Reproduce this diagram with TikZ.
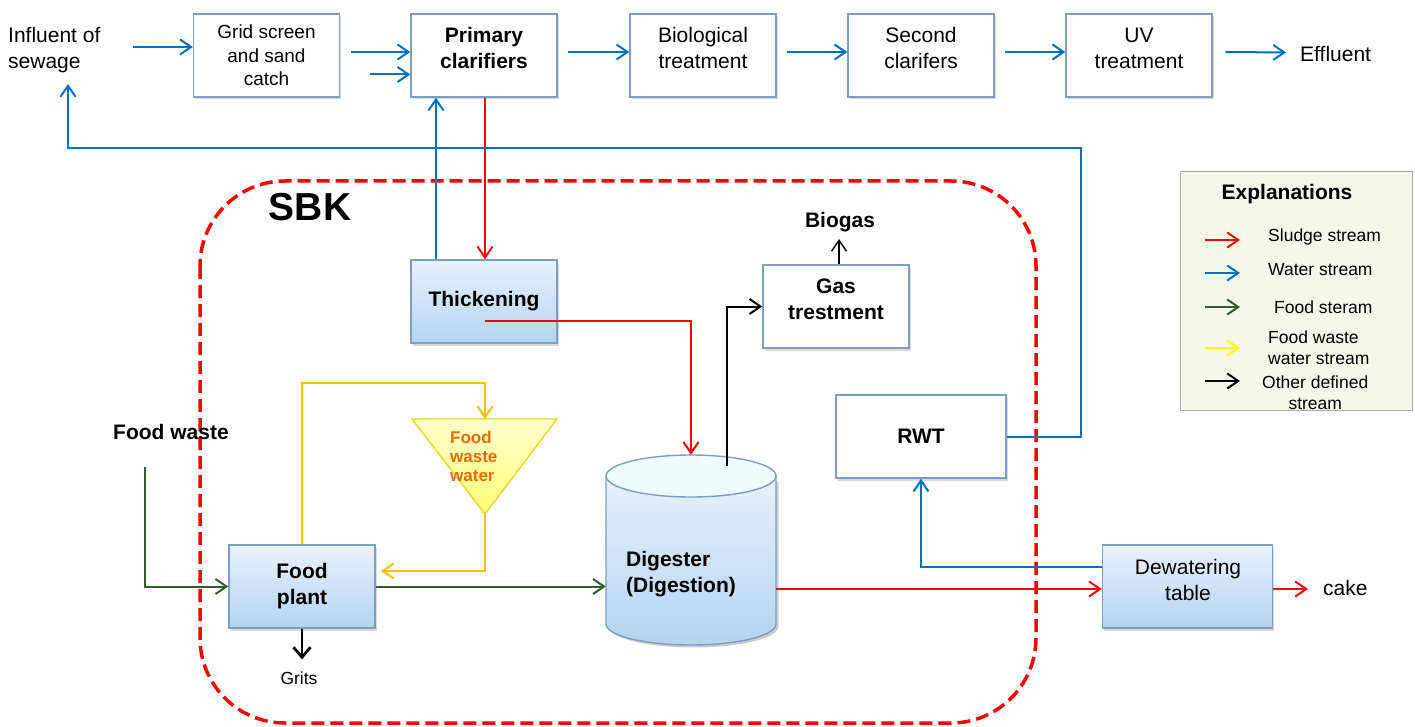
\documentclass[tikz,border=0pt]{standalone}
\usepackage{fontspec}
\setmainfont{Liberation Sans}
\usetikzlibrary{arrows.meta,shadows,calc}
\definecolor{wblue}{RGB}{0,112,192}
\definecolor{sred}{RGB}{255,0,0}
\definecolor{fgreen}{RGB}{47,94,47}
\definecolor{fyel}{RGB}{255,192,0}
\definecolor{lyel}{RGB}{255,255,0}
\definecolor{boxc}{RGB}{125,158,192}
\definecolor{gtop}{RGB}{232,242,252}
\definecolor{gbot}{RGB}{180,211,240}
\definecolor{orng}{RGB}{228,108,10}
\definecolor{legbg}{RGB}{245,247,233}
\definecolor{legbd}{RGB}{170,170,170}
\definecolor{cyltop}{RGB}{238,252,255}
\definecolor{tritop}{RGB}{255,255,205}
\definecolor{tribot}{RGB}{255,255,120}
\definecolor{tribd}{RGB}{230,215,40}
\tikzset{
  box/.style={draw=boxc, line width=1.4pt, fill=white, minimum width=146pt, minimum height=83pt, inner sep=0pt,
    drop shadow={opacity=0.3, shadow xshift=1.5pt, shadow yshift=-2.5pt}},
  gbox/.style={box, top color=gtop, bottom color=gbot},
  arr/.style={-{Straight Barb[length=11pt,width=15pt]}, line width=2pt},
  wb/.style={arr, draw=wblue},
  sr/.style={arr, draw=sred},
  fg/.style={arr, draw=fgreen},
  fy/.style={arr, draw=fyel},
  bk/.style={arr, draw=black},
  txt/.style={inner sep=0pt, align=center, font=\fontsize{21}{26}\selectfont},
  btxt/.style={txt, font=\fontsize{21}{26}\selectfont\bfseries},
  legt/.style={inner sep=0pt, anchor=west, align=left, font=\fontsize{17.5}{21}\selectfont},
}
\begin{document}
\begin{tikzpicture}[x=1pt,y=-1pt]
\useasboundingbox (0,0) rectangle (1415,727);

% SBK boundary
\draw[sred, line width=3.5pt, rounded corners=85pt, dash pattern=on 13pt off 6pt] (200,181) rectangle (1036,723);
\node[inner sep=0pt, font=\fontsize{39}{44}\selectfont\bfseries] (sbk) at (310,207) {SBK};

% top row
\node[txt, anchor=west, align=left] (infl) at (8,50) {Influent of\\sewage};
\node[box, font=\fontsize{19}{23.5}\selectfont, align=center] (grid) at (266.5,55.5) {Grid screen\\and sand\\catch};
\node[box] (prim) at (484,55.5) {};
\node[btxt] (primt) at (484,48) {Primary\\clarifiers};
\node[box] (bio) at (703,55.5) {};
\node[txt] (biot) at (703,48) {Biological\\treatment};
\node[box] (sec) at (921,55.5) {};
\node[txt] (sect) at (921,48) {Second\\clarifers};
\node[box] (uv) at (1139,55.5) {};
\node[txt] (uvt) at (1139,48) {UV\\treatment};
\node[txt, anchor=west] (eff) at (1300,54) {Effluent};

\draw[wb] ($(grid.west)+(-60,-8.5)$) -- ($(grid.west)+(0,-8.5)$);
\draw[wb] ($(prim.west)+(-59,-3.5)$) -- ($(prim.west)+(0,-3.5)$);
\draw[wb] ($(prim.west)+(-40,19)$) -- ($(prim.west)+(0,19)$);
\draw[wb] ($(bio.west)+(-61,-3.5)$) -- ($(bio.west)+(0,-3.5)$);
\draw[wb] ($(sec.west)+(-60,-3.5)$) -- ($(sec.west)+(0,-3.5)$);
\draw[wb] ($(uv.west)+(-60,-3.5)$) -- ($(uv.west)+(0,-3.5)$);
\draw[wb] ($(uv.east)+(13,-3.5)$) -- ($(eff.west)+(-14,-1.5)$);

% thickening
\node[gbox, font=\fontsize{21}{26}\selectfont\bfseries] (thick) at (484,301.5) {Thickening};
\draw[wb] ($(thick.north)+(-48,0)$) -- ($(prim.south)+(-48,0)$);
\draw[sr] ($(prim.south)+(1,0)$) -- ($(thick.north)+(1,0)$);

% gas treatment
\node[box] (gas) at (836,306.5) {};
\node[btxt] (gast) at (836,299) {Gas\\trestment};
\node[inner sep=0pt, font=\fontsize{21}{26}\selectfont\bfseries] (biogas) at (840,222) {Biogas};
\draw[bk, line width=1.4pt] ($(gas.north)+(3,0)$) -- ($(biogas.south)+(-1,7)$);

% RWT
\node[box, minimum width=170pt, font=\fontsize{21}{26}\selectfont\bfseries] (rwt) at (921,436.5) {RWT};

% digester cylinder
\node[minimum width=170pt, minimum height=190pt, inner sep=0pt] (dig) at (691,550) {};
\fill[black, opacity=0.2] (608.5,481.5) -- (608.5,626.5) .. controls (608.5,638.1) and (646.5,647.5) .. (693.5,647.5) .. controls (740.5,647.5) and (778.5,638.1) .. (778.5,626.5) -- (778.5,481.5) -- cycle;
\shade[top color=gtop, bottom color=gbot, draw=boxc, line width=1.4pt] (606,476) -- (606,624) .. controls (606,635.6) and (644,645) .. (691,645) .. controls (738,645) and (776,635.6) .. (776,624) -- (776,476) -- cycle;
\draw[boxc, fill=cyltop, line width=1.4pt] (691,476) ellipse[x radius=85, y radius=21];
\node[btxt, align=left, anchor=west] (digt) at (626,574.5) {Digester\\(Digestion)};

\coordinate (r1) at (485,321);
\draw[sr] (r1) -| (dig.north);
\coordinate (g1) at (727,466);
\draw[bk] (g1) |- (gas.west);

% dewatering
\node[gbox, minimum width=170pt] (dew) at (1187.5,586.5) {};
\node[txt] (dewt) at (1188,579.5) {Dewatering\\table};
\node[txt, anchor=west] (cake) at (1323,588) {cake};
\draw[sr] (dig.east |- 0,589) -- (dew.west |- 0,589);
\draw[sr] (dew.east |- 0,589) -- ($(cake.west)+(-15,1)$);
\draw[wb] ($(dew.west)+(0,-19.5)$) -| (rwt.south);

% water return loop
\coordinate (c1) at (1081,148);
\coordinate (c2) at (68,84);
\draw[wb] (rwt.east) -| (c1) -| (c2);

% food side
\node[inner sep=0pt, font=\fontsize{21}{26}\selectfont\bfseries] (fw) at (171,432) {Food waste};
\node[gbox, font=\fontsize{21}{26}\selectfont\bfseries, align=center] (fplant) at (302,586.5) {Food\\plant};
\coordinate (fw0) at (145,467);
\draw[fg] (fw0) |- (fplant.west);
\draw[fg] (fplant.east) -- (fplant.east -| dig.west);
\node[inner sep=0pt, font=\fontsize{17.5}{21}\selectfont] (grits) at (299,678) {Grits};
\draw[-{Straight Barb[length=10pt,width=17pt]}, line width=2.8pt] (fplant.south) -- ($(grits.north)+(3,-12)$);

% food waste water triangle
\coordinate (trit) at (485,419);
\coordinate (tria) at (485,514);
\shade[top color=tritop, bottom color=tribot, draw=tribd, line width=1.4pt] (412,419) -- (557,419) -- (tria) -- cycle;
\node[inner sep=0pt, align=left, anchor=west, text=orng, font=\fontsize{17}{19}\selectfont\bfseries] (fwwt) at (450,456) {Food\\waste\\water};
\draw[fy] (fplant.north) -- ++(0,-161) -| (trit);
\coordinate (c4) at (381,571);
\draw[fy] (tria) |- (c4);

% legend
\node[draw=legbd, fill=legbg, line width=1pt, minimum width=232pt, minimum height=238pt, inner sep=0pt] (leg) at (1296,291) {};
\node[inner sep=0pt, font=\fontsize{21}{26}\selectfont\bfseries] (legh) at (1287,194) {Explanations};
\draw[sr] (1205,240) -- (1240,240);
\draw[wb] (1205,273) -- (1240,273);
\draw[fg] (1205,307) -- (1240,307);
\draw[arr, draw=lyel] (1205,348) -- (1240,348);
\draw[bk] (1205,381) -- (1240,381);
\node[legt] (l1) at (1268,237) {Sludge stream};
\node[legt] (l2) at (1268,270) {Water stream};
\node[legt] (l3) at (1274,307) {Food steram};
\node[legt] (l4) at (1268,347.5) {Food waste\\water stream};
\node[legt, align=center] (l5) at (1262,393) {Other defined\\stream};
\end{tikzpicture}
\end{document}
